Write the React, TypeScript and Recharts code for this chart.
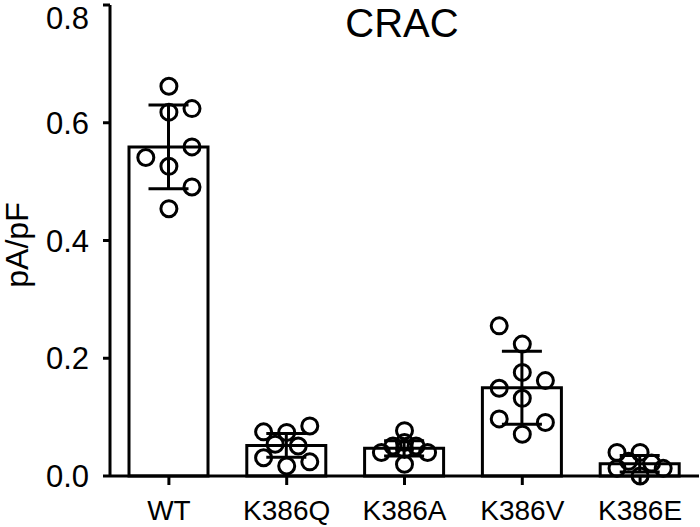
import { Bar, ComposedChart, ErrorBar, Scatter, XAxis, YAxis } from "recharts";

// Groups, bar means and SD
const categories = ["WT", "K386Q", "K386A", "K386V", "K386E"];
const means = [0.559, 0.052, 0.047, 0.15, 0.021];
const sds = [0.071, 0.02, 0.013, 0.062, 0.014];

// individual cells per group (pA/pF) and their column in the dot cluster
const pointValues = [
  [0.662, 0.618, 0.624, 0.559, 0.541, 0.526, 0.491, 0.454],
  [0.075, 0.074, 0.085, 0.054, 0.051, 0.031, 0.024, 0.017],
  [0.077, 0.04, 0.04, 0.02, 0.051, 0.051, 0.057, 0.045],
  [0.255, 0.224, 0.176, 0.162, 0.149, 0.132, 0.097, 0.091, 0.071],
  [0.04, 0.04, 0.022, 0.013, 0.013, 0.0, 0.025],
];
const pointSlots = [
  [0, 0, 2, 2, -2, 0, 2, 0],
  [-2, 0, 2, -1, 1, -2, 2, 0],
  [0, -2, 2, 0, -1, 1, 0, 0],
  [-2, 0, 0, 2, -2, 0, -2, 2, 0],
  [-2, 0, 1, -2, 2, 0, -1],
];
const yTicks = [0, 0.2, 0.4, 0.6, 0.8];

const SLOT = 0.098; // horizontal spread of one dot column, in category units
const FONT = '"Liberation Sans", Arial, Helvetica, sans-serif';

const bars = categories.map((name, i) => ({ name, mean: means[i], sd: sds[i] }));
const dots = pointValues.flatMap((vals, i) =>
  vals.map((v, j) => ({ x: i + pointSlots[i][j] * SLOT, y: v }))
);

const Dot = (props: any) => (
  <circle cx={props.cx} cy={props.cy} r={8} fill="none" stroke="#000" strokeWidth={3} />
);

export default function App() {
  return (
    <div style={{ position: "absolute", left: 0, top: 0, width: 700, height: 527, background: "#fff", fontFamily: FONT }}>
      <ComposedChart width={700} height={527} data={bars} margin={{ top: 5, right: 1, bottom: 0, left: 0 }}>
        <XAxis
          xAxisId="cat"
          dataKey="name"
          height={51}
          tickSize={9}
          tickMargin={15}
          axisLine={{ stroke: "#000", strokeWidth: 3 }}
          tickLine={{ stroke: "#000", strokeWidth: 3 }}
          tick={{ fill: "#000", fontSize: 28, fontFamily: FONT }}
          interval={0}
        />
        <XAxis xAxisId="num" type="number" dataKey="x" domain={[-0.5, 4.5]} hide />
        <YAxis
          type="number"
          domain={[0, 0.8]}
          ticks={yTicks}
          width={110}
          tickSize={7}
          tickMargin={14}
          tickFormatter={(v: number) => v.toFixed(1)}
          axisLine={{ stroke: "#000", strokeWidth: 3 }}
          tickLine={{ stroke: "#000", strokeWidth: 3 }}
          tick={{ fill: "#000", fontSize: 31, fontFamily: FONT }}
        />
        <Bar xAxisId="cat" dataKey="mean" barSize={79} fill="#fff" stroke="#000" strokeWidth={3} isAnimationActive={false}>
          <ErrorBar dataKey="sd" width={20} stroke="#000" strokeWidth={3} direction="y" />
        </Bar>
        <Scatter xAxisId="num" data={dots} dataKey="y" shape={Dot} isAnimationActive={false} />
      </ComposedChart>
      <div
        style={{
          position: "absolute",
          left: 302,
          top: 3,
          width: 200,
          textAlign: "center",
          fontSize: 40,
          lineHeight: "40px",
          color: "#000",
        }}
      >
        CRAC
      </div>
      <div
        style={{
          position: "absolute",
          left: 17 - 100,
          top: 245 - 20,
          width: 200,
          height: 40,
          lineHeight: "40px",
          textAlign: "center",
          fontSize: 32,
          color: "#000",
          transform: "rotate(-90deg)",
        }}
      >
        pA/pF
      </div>
    </div>
  );
}
